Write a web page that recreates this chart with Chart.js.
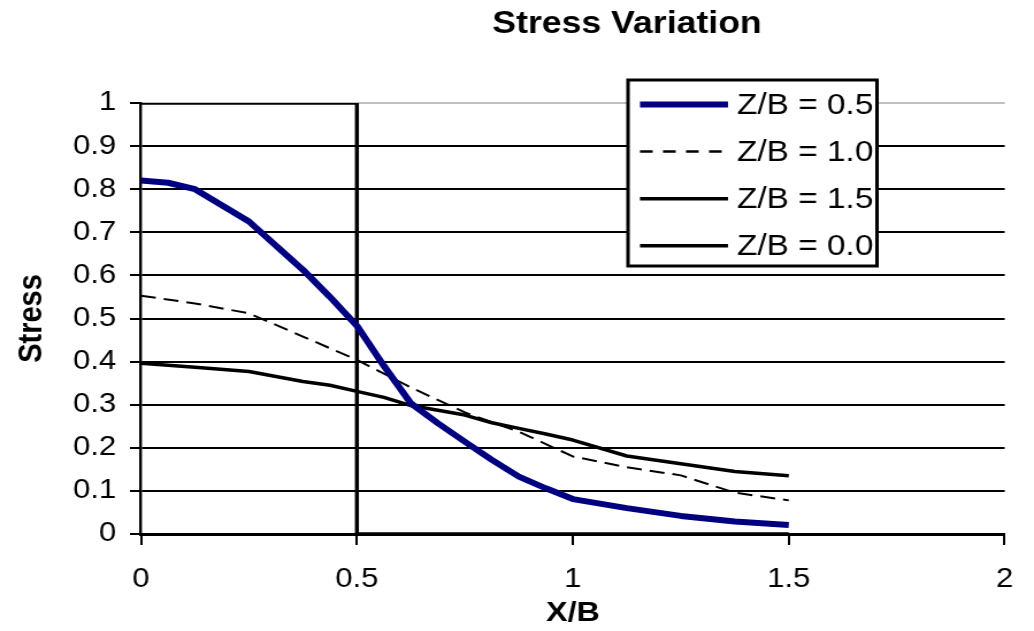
<!DOCTYPE html>
<html>
<head>
<meta charset="utf-8">
<script src="https://cdn.jsdelivr.net/npm/chart.js@4/dist/chart.umd.min.js"></script>
<style>
  html, body { margin: 0; padding: 0; background: #fff; overflow: hidden; }
</style>
</head>
<body>
<canvas id="c" width="899" height="631" style="display:block;width:1034px;height:631px"></canvas>
<script>
// Tick labels
const xTickLabels = ['0', '0.5', '1', '1.5', '2'];
const yTickLabels = ['0', '0.1', '0.2', '0.3', '0.4', '0.5', '0.6', '0.7', '0.8', '0.9', '1'];

// Series names
const seriesNames = ['Z/B = 0.5', 'Z/B = 1.0', 'Z/B = 1.5', 'Z/B = 0.0'];

// Z/B = 0.5
const xHalf = [0, 0.0625, 0.125, 0.25, 0.375, 0.4375, 0.5, 0.5625, 0.625, 0.6875, 0.75, 0.8125, 0.875, 0.9375, 1, 1.125, 1.25, 1.375, 1.5];
const stressHalf = [0.82, 0.815, 0.80, 0.725, 0.613, 0.55, 0.483, 0.39, 0.303, 0.257, 0.214, 0.172, 0.133, 0.106, 0.081, 0.060, 0.042, 0.029, 0.021];

// Z/B = 1.0
const xOne = [0, 0.125, 0.25, 0.375, 0.5, 0.625, 0.75, 0.875, 1, 1.125, 1.25, 1.375, 1.5];
const stressOne = [0.553, 0.535, 0.512, 0.458, 0.404, 0.34, 0.282, 0.237, 0.18, 0.155, 0.136, 0.096, 0.078];

// Z/B = 1.5
const xOneHalf = [0, 0.125, 0.25, 0.375, 0.4375, 0.5, 0.5625, 0.625, 0.6875, 0.75, 0.8125, 0.875, 0.9375, 1, 1.125, 1.25, 1.375, 1.5];
const stressOneHalf = [0.396, 0.387, 0.377, 0.354, 0.345, 0.331, 0.317, 0.298, 0.287, 0.276, 0.258, 0.245, 0.232, 0.218, 0.181, 0.163, 0.145, 0.135];

// Z/B = 0.0 (surface load: 1 under the footing, 0 outside)
const xZero = [0, 0.5, 0.5, 1.5];
const stressZero = [1, 1, 0, 0];

const chartTitle = 'Stress Variation';

// The canvas is drawn 899 px wide and displayed 1034 px wide
const SX = 1034 / 899;
const hx = v => v / SX;   // display x -> canvas x

const FONT = "'Liberation Sans', Arial, sans-serif";
const pairs = (xs, ys) => xs.map((x, i) => ({ x: x, y: ys[i] }));

const styles = [
  { color: '#000080', width: 6, dash: [], legendWidth: 6, legendDash: [] },
  { color: '#000000', width: 2, dash: [13, 7], legendWidth: 2.5, legendDash: [11, 9] },
  { color: '#000000', width: 3.5, dash: [], legendWidth: 3.5, legendDash: [] },
  { color: '#000000', width: 3.5, dash: [], legendWidth: 3.5, legendDash: [] }
];
const series = [
  pairs(xHalf, stressHalf),
  pairs(xOne, stressOne),
  pairs(xOneHalf, stressOneHalf),
  pairs(xZero, stressZero)
];

// Title and boxed legend drawn on the canvas
const decorations = {
  id: 'decorations',
  afterDraw(chart) {
    const ctx = chart.ctx;
    ctx.save();
    ctx.fillStyle = '#000';
    ctx.font = 'bold 31px ' + FONT;
    ctx.textAlign = 'center';
    ctx.textBaseline = 'middle';
    ctx.fillText(chartTitle, hx(627), 24);

    const x1 = hx(628), x2 = hx(877), y1 = 80, y2 = 266;
    ctx.fillStyle = '#fff';
    ctx.fillRect(x1, y1, x2 - x1, y2 - y1);
    ctx.strokeStyle = '#000';
    ctx.lineWidth = 3;
    ctx.setLineDash([]);
    ctx.strokeRect(x1, y1, x2 - x1, y2 - y1);

    ctx.font = '29px ' + FONT;
    ctx.textAlign = 'left';
    chart.data.datasets.forEach((ds, i) => {
      const y = 104.5 + i * 47.1;
      ctx.beginPath();
      ctx.strokeStyle = ds.borderColor;
      ctx.lineWidth = styles[i].legendWidth;
      ctx.setLineDash(styles[i].legendDash);
      ctx.moveTo(hx(640), y);
      ctx.lineTo(hx(728), y);
      ctx.stroke();
      ctx.setLineDash([]);
      ctx.fillStyle = '#000';
      ctx.fillText(ds.label, hx(737), y + 1);
    });
    ctx.restore();
  }
};

new Chart(document.getElementById('c'), {
  type: 'scatter',
  data: {
    datasets: series.map((pts, i) => ({
      label: seriesNames[i],
      data: pts,
      showLine: true,
      borderColor: styles[i].color,
      backgroundColor: styles[i].color,
      borderWidth: styles[i].width,
      borderDash: styles[i].dash,
      borderJoinStyle: 'round',
      borderCapStyle: 'butt',
      pointRadius: 0,
      pointHoverRadius: 0,
      tension: 0,
      fill: false
    }))
  },
  options: {
    responsive: false,
    devicePixelRatio: 1,
    animation: false,
    events: [],
    layout: { padding: { left: 0, right: 899 - hx(1010), top: 103, bottom: 0 } },
    plugins: {
      legend: { display: false },
      title: { display: false },
      tooltip: { enabled: false }
    },
    scales: {
      x: {
        type: 'linear',
        min: 0,
        max: 2,
        afterBuildTicks(scale) {
          scale.ticks = xTickLabels.map(t => ({ value: parseFloat(t) }));
        },
        afterFit(scale) { scale.height = 97; },
        border: { display: true, color: '#000', width: 3 },
        grid: {
          drawOnChartArea: false,
          drawTicks: true,
          tickLength: 11,
          color: '#000',
          tickColor: '#000',
          lineWidth: 2
        },
        ticks: {
          padding: 18,
          color: '#000',
          maxRotation: 0,
          font: { family: FONT, size: 27 },
          callback: (v, i) => xTickLabels[i]
        },
        title: {
          display: true,
          text: 'X/B',
          color: '#000',
          font: { family: FONT, size: 28, weight: 'bold' },
          padding: { top: 0, bottom: 1 }
        }
      },
      y: {
        type: 'linear',
        min: 0,
        max: 1,
        afterBuildTicks(scale) {
          scale.ticks = yTickLabels.map(t => ({ value: parseFloat(t) }));
        },
        afterFit(scale) { scale.width = hx(141); },
        border: { display: true, color: '#000', width: 2.4 },
        grid: {
          drawOnChartArea: true,
          drawTicks: true,
          tickLength: hx(11),
          lineWidth: 2,
          color: ctx => (ctx.tick && ctx.tick.value === 1 ? '#c0c0c0' : '#000'),
          tickColor: '#000'
        },
        ticks: {
          padding: 12,
          color: '#000',
          font: { family: FONT, size: 27 },
          callback: (v, i) => yTickLabels[i]
        },
        title: {
          display: true,
          text: 'Stress',
          color: '#000',
          font: { family: FONT, size: 29, weight: 'bold' },
          padding: { top: 11, bottom: 0 }
        }
      }
    }
  },
  plugins: [decorations]
});
</script>
</body>
</html>
